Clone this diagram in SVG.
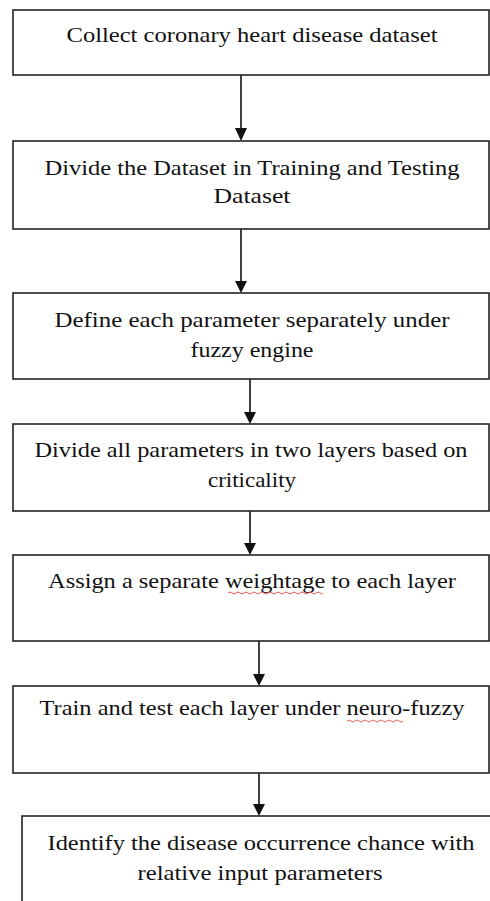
<svg xmlns="http://www.w3.org/2000/svg" width="490" height="901" viewBox="0 0 490 901">
<style>
.box{fill:#fff;stroke:#222;stroke-width:1.6}
.t{font-family:"Liberation Serif","Times New Roman",serif;font-size:21px;fill:#111;text-anchor:middle}
.c{stroke:#111;stroke-width:1.6;fill:none}
.ah{fill:#111}
.sq{stroke:#e03030;stroke-width:0.8;fill:none}
</style>
<rect width="490" height="901" fill="#fff"/>
<g id="connectors">
<path class="c" d="M241,75 L241,128"/><path class="ah" d="M235,128 L247,128 L241,141 Z"/>
<path class="c" d="M241,229 L241,281"/><path class="ah" d="M235,281 L247,281 L241,293 Z"/>
<path class="c" d="M250,379 L250,412"/><path class="ah" d="M244,412 L256,412 L250,424 Z"/>
<path class="c" d="M250,511 L250,543"/><path class="ah" d="M244,543 L256,543 L250,555 Z"/>
<path class="c" d="M259,641 L259,674"/><path class="ah" d="M253,674 L265,674 L259,686 Z"/>
<path class="c" d="M259,773 L259,804"/><path class="ah" d="M253,804 L265,804 L259,816 Z"/>
</g>
<g id="n1">
<rect class="box" x="13" y="10" width="476" height="65"/>
<text class="t" x="252" y="42" textLength="371" lengthAdjust="spacingAndGlyphs">Collect coronary heart disease dataset</text>
</g>
<g id="n2">
<rect class="box" x="13" y="141" width="476" height="88"/>
<text class="t" x="252" y="175" textLength="415" lengthAdjust="spacingAndGlyphs">Divide the Dataset in Training and Testing</text>
<text class="t" x="252" y="203" textLength="77" lengthAdjust="spacingAndGlyphs">Dataset</text>
</g>
<g id="n3">
<rect class="box" x="13" y="293" width="476" height="86"/>
<text class="t" x="252" y="327" textLength="395" lengthAdjust="spacingAndGlyphs">Define each parameter separately under</text>
<text class="t" x="252" y="357" textLength="123" lengthAdjust="spacingAndGlyphs">fuzzy engine</text>
</g>
<g id="n4">
<rect class="box" x="13" y="424" width="476" height="87"/>
<text class="t" x="251" y="457" textLength="433" lengthAdjust="spacingAndGlyphs">Divide all parameters in two layers based on</text>
<text class="t" x="252" y="487" textLength="88" lengthAdjust="spacingAndGlyphs">criticality</text>
</g>
<g id="n5">
<rect class="box" x="13" y="555" width="476" height="86"/>
<text class="t" x="252" y="588" textLength="408" lengthAdjust="spacingAndGlyphs">Assign a separate weightage to each layer</text>
<path class="sq" d="M228,593 q2,-2 4,0 t4,0 t4,0 t4,0 t4,0 t4,0 t4,0 t4,0 t4,0 t4,0 t4,0 t4,0 t4,0 t4,0 t4,0 t4,0 t4,0 t4,0 t4,0 t4,0 t4,0 t4,0 t4,0 t3,0"/>
</g>
<g id="n6">
<rect class="box" x="13" y="686" width="476" height="87"/>
<text class="t" x="252" y="715" textLength="425" lengthAdjust="spacingAndGlyphs">Train and test each layer under neuro-fuzzy</text>
<path class="sq" d="M347,721 q2,-2 4,0 t4,0 t4,0 t4,0 t4,0 t4,0 t4,0 t4,0 t4,0 t4,0 t4,0 t4,0 t4,0 t4,0"/>
</g>
<g id="n7">
<rect class="box" x="22" y="816" width="480" height="100"/>
<text class="t" x="261" y="850" textLength="427" lengthAdjust="spacingAndGlyphs">Identify the disease occurrence chance with</text>
<text class="t" x="260" y="880" textLength="245" lengthAdjust="spacingAndGlyphs">relative input parameters</text>
</g>
</svg>
